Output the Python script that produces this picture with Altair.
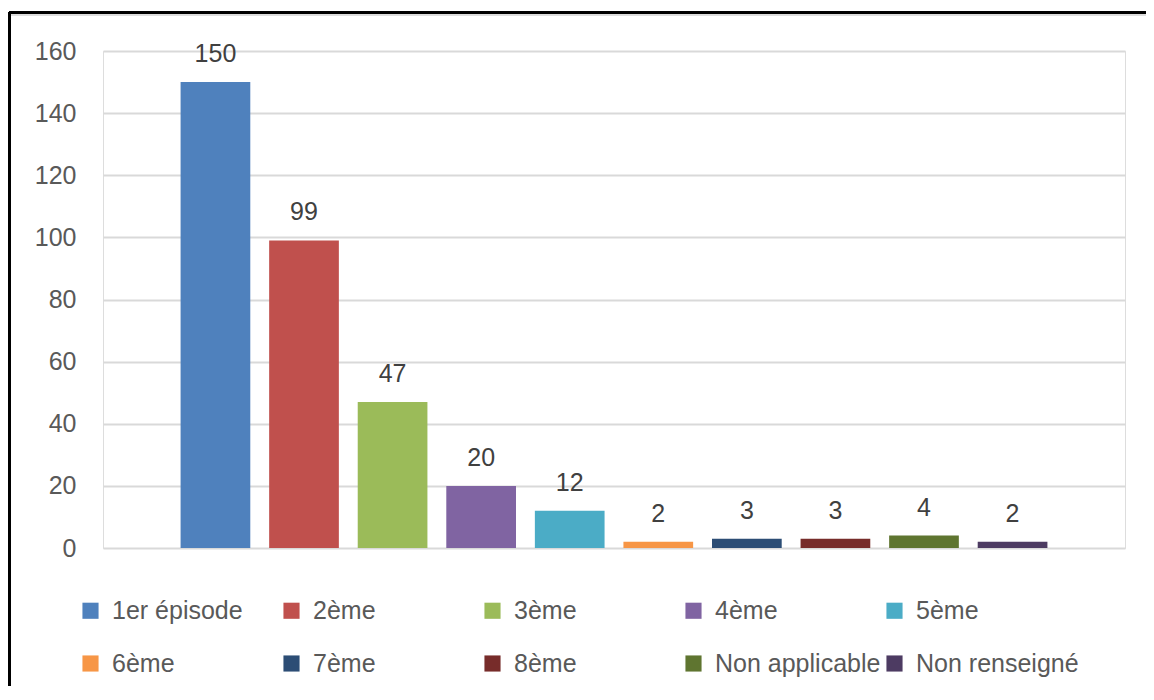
import altair as alt
import pandas as pd

categories = ["1er épisode", "2ème", "3ème", "4ème", "5ème",
              "6ème", "7ème", "8ème", "Non applicable", "Non renseigné"]
values = [150, 99, 47, 20, 12, 2, 3, 3, 4, 2]
colors = ["#4F81BD", "#C0504D", "#9BBB59", "#8064A2", "#4BACC6",
          "#F79646", "#2C4D75", "#772C2A", "#5F7530", "#4D3B62"]
y_ticks = [0, 20, 40, 60, 80, 100, 120, 140, 160]

df = pd.DataFrame({"cat": categories, "val": values})

FONT = "Liberation Sans"
FS = 25
W, H = 1022, 497

x = alt.X("cat:N", sort=categories, axis=None,
          scale=alt.Scale(paddingInner=0.213, paddingOuter=0.876))
y = alt.Y("val:Q", title=None,
          scale=alt.Scale(domain=[0, 160], nice=False),
          axis=alt.Axis(values=y_ticks, domain=False, ticks=False,
                        labelFontSize=FS, labelColor="#595959", labelFont=FONT,
                        labelPadding=27, gridColor="#D9D9D9", gridWidth=2))
color = alt.Color("cat:N", sort=categories,
                  scale=alt.Scale(domain=categories, range=colors),
                  legend=alt.Legend(title=None, orient="none", legendX=-25, legendY=547,
                                    direction="horizontal", columns=5, gridAlign="all",
                                    columnPadding=1, rowPadding=27,
                                    symbolType="square", symbolSize=260, symbolStrokeWidth=0,
                                    labelFontSize=FS, labelColor="#595959", labelFont=FONT,
                                    labelOffset=9, labelLimit=400))

bars = alt.Chart(df).mark_bar().encode(x=x, y=y, color=color)
labels = alt.Chart(df).mark_text(fontSize=FS, color="#404040", font=FONT,
                                 baseline="alphabetic", dy=-20).encode(
    x=x, y=y, text=alt.Text("val:Q"))

border_top = alt.Chart(df).mark_rule(color="black", strokeWidth=3).encode(
    x=alt.value(-94), x2=alt.value(W + 30), y=alt.value(-38.5))
shadow_top = alt.Chart(df).mark_rule(color="#DDDDDD", strokeWidth=2).encode(
    x=alt.value(-92), x2=alt.value(W + 30), y=alt.value(-36))
border_left = alt.Chart(df).mark_rule(color="black", strokeWidth=3).encode(
    x=alt.value(-94), y=alt.value(-38.5), y2=alt.value(H + 200))

chart = alt.layer(bars, labels, shadow_top, border_top, border_left).properties(
    width=W, height=H,
    padding={"left": 95, "top": 43, "right": 21, "bottom": 138},
    autosize=alt.AutoSizeParams(type="none"),
).configure_view(stroke=None).configure(background="white")

chart.save("out.html", embed_options={"renderer": "svg", "actions": False})
